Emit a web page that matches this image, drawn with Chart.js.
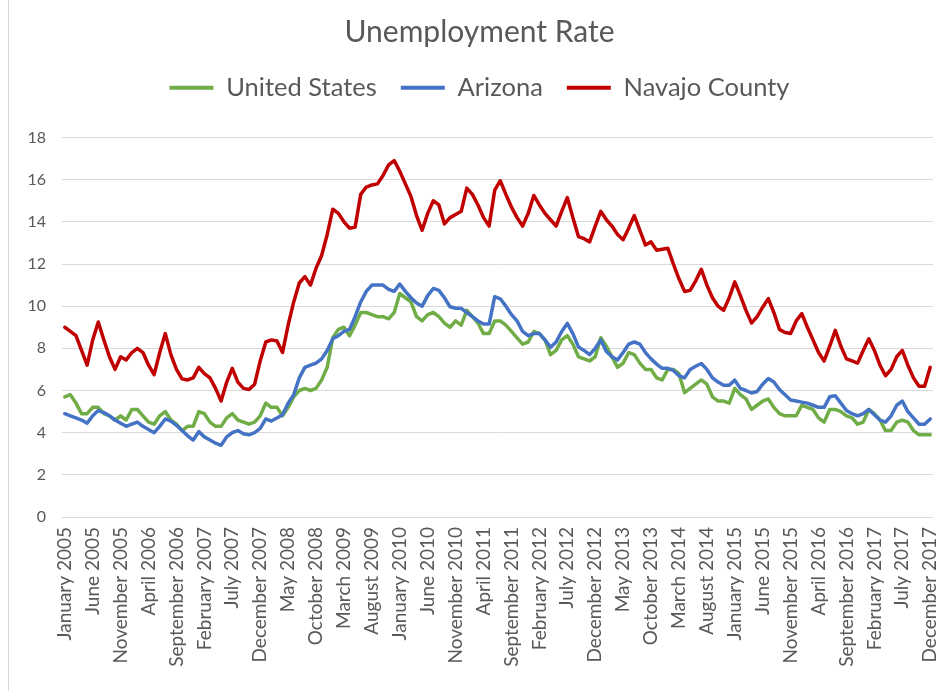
<!DOCTYPE html>
<html>
<head>
<meta charset="utf-8">
<script src="https://cdn.jsdelivr.net/npm/chart.js@4/dist/chart.umd.min.js"></script>
<style>
  html, body { margin: 0; padding: 0; background: #ffffff; }
  #wrap { width: 946px; height: 691px; position: relative; }
</style>
</head>
<body>
<div id="wrap"><canvas id="c" width="946" height="691"></canvas></div>
<script>
// ---- categories ----
const monthNames = ['January','February','March','April','May','June','July','August','September','October','November','December'];
const years = [2005,2006,2007,2008,2009,2010,2011,2012,2013,2014,2015,2016,2017];
const categories = [];
years.forEach(y => monthNames.forEach(m => categories.push(m + ' ' + y)));
const labelEvery = 5;

// ---- series (monthly, Jan 2005 - Dec 2017) ----
const usRate = [
  5.7,5.8,5.4,4.9,4.9,5.2,5.2,4.9,4.8,4.6,4.8,4.6,
  5.1,5.1,4.8,4.5,4.4,4.8,5.0,4.6,4.4,4.1,4.3,4.3,
  5.0,4.9,4.5,4.3,4.3,4.7,4.9,4.6,4.5,4.4,4.5,4.8,
  5.4,5.2,5.2,4.8,5.2,5.7,6.0,6.1,6.0,6.1,6.5,7.1,
  8.5,8.9,9.0,8.6,9.1,9.7,9.7,9.6,9.5,9.5,9.4,9.7,
  10.6,10.4,10.2,9.5,9.3,9.6,9.7,9.5,9.2,9.0,9.3,9.1,
  9.8,9.5,9.2,8.7,8.7,9.3,9.3,9.1,8.8,8.5,8.2,8.3,
  8.8,8.7,8.4,7.7,7.9,8.4,8.6,8.2,7.6,7.5,7.4,7.6,
  8.5,8.1,7.6,7.1,7.3,7.8,7.7,7.3,7.0,7.0,6.6,6.5,
  7.0,7.0,6.8,5.9,6.1,6.3,6.5,6.3,5.7,5.5,5.5,5.4,
  6.1,5.8,5.6,5.1,5.3,5.5,5.6,5.2,4.9,4.8,4.8,4.8,
  5.3,5.2,5.1,4.7,4.5,5.1,5.1,5.0,4.8,4.7,4.4,4.5,
  5.1,4.9,4.6,4.1,4.1,4.5,4.6,4.5,4.1,3.9,3.9,3.9
];
const azRate = [
  4.9,4.8,4.7,4.6,4.45,4.8,5.05,4.95,4.8,4.6,4.45,4.3,
  4.4,4.5,4.3,4.15,4.0,4.3,4.65,4.55,4.35,4.1,3.85,3.65,
  4.05,3.8,3.65,3.5,3.4,3.8,4.0,4.1,3.95,3.9,4.0,4.2,
  4.65,4.55,4.7,4.85,5.4,5.8,6.6,7.1,7.2,7.3,7.5,7.9,
  8.45,8.6,8.8,8.9,9.5,10.2,10.7,11.0,11.0,11.0,10.8,10.7,
  11.05,10.7,10.4,10.15,10.0,10.5,10.84,10.75,10.4,9.97,9.9,9.9,
  9.7,9.5,9.3,9.15,9.15,10.45,10.35,10.0,9.6,9.3,8.8,8.6,
  8.7,8.7,8.4,8.05,8.3,8.8,9.18,8.7,8.07,7.9,7.7,8.0,
  8.4,7.85,7.6,7.45,7.8,8.2,8.3,8.2,7.8,7.5,7.25,7.05,
  7.05,6.95,6.7,6.6,7.0,7.15,7.28,7.0,6.6,6.4,6.25,6.25,
  6.49,6.1,6.0,5.88,5.95,6.3,6.57,6.4,6.05,5.8,5.55,5.5,
  5.45,5.4,5.3,5.2,5.2,5.7,5.75,5.4,5.05,4.9,4.8,4.9,
  5.1,4.85,4.6,4.5,4.8,5.3,5.5,5.0,4.7,4.4,4.4,4.65
];
const navajoRate = [
  9.0,8.8,8.6,7.9,7.2,8.4,9.25,8.4,7.6,7.0,7.6,7.45,
  7.8,8.0,7.8,7.2,6.75,7.8,8.7,7.7,7.0,6.55,6.5,6.6,
  7.1,6.8,6.6,6.1,5.5,6.4,7.05,6.4,6.1,6.05,6.3,7.4,
  8.3,8.4,8.35,7.8,9.1,10.2,11.1,11.4,11.0,11.8,12.4,13.4,
  14.6,14.4,14.0,13.7,13.75,15.3,15.65,15.75,15.8,16.2,16.7,16.9,
  16.4,15.8,15.2,14.3,13.6,14.4,15.0,14.8,13.9,14.2,14.35,14.5,
  15.6,15.3,14.8,14.2,13.8,15.5,15.95,15.3,14.7,14.2,13.8,14.4,
  15.25,14.8,14.4,14.1,13.8,14.5,15.15,14.2,13.3,13.2,13.05,13.8,
  14.5,14.1,13.8,13.4,13.15,13.7,14.3,13.6,12.9,13.05,12.65,12.7,
  12.75,12.0,11.3,10.7,10.75,11.2,11.75,11.0,10.4,10.0,9.8,10.4,
  11.15,10.5,9.8,9.2,9.5,9.95,10.36,9.7,8.9,8.75,8.7,9.3,
  9.65,9.0,8.4,7.8,7.4,8.1,8.85,8.1,7.5,7.4,7.3,7.9,
  8.45,7.9,7.2,6.7,7.0,7.6,7.9,7.2,6.6,6.2,6.2,7.1
];
const yTicks = { min: 0, max: 18, step: 2 };

// ---- styling ----
const FONT = 'Lato, "Open Sans", sans-serif';
const TEXT = '#595959';
const GRID = '#d9d9d9';

const leftBorder = {
  id: 'leftBorder',
  beforeDraw(chart) {
    const ctx = chart.ctx;
    ctx.save();
    ctx.fillStyle = '#ffffff';
    ctx.fillRect(0, 0, chart.width, chart.height);
    ctx.strokeStyle = GRID;
    ctx.lineWidth = 1;
    ctx.beginPath();
    ctx.moveTo(8.5, 0);
    ctx.lineTo(8.5, chart.height);
    ctx.stroke();
    ctx.restore();
  }
};
const legendSpace = {
  id: 'legendSpace',
  beforeInit(chart) {
    const origFit = chart.legend.fit;
    chart.legend.fit = function () {
      origFit.bind(chart.legend)();
      this.height += 27;
    };
  }
};

new Chart(document.getElementById('c'), {
  type: 'line',
  data: {
    labels: categories,
    datasets: [
      { label: 'United States', data: usRate, borderColor: '#70ad47', backgroundColor: '#70ad47', order: 2 },
      { label: 'Arizona', data: azRate, borderColor: '#4472c4', backgroundColor: '#4472c4', order: 1 },
      { label: 'Navajo County', data: navajoRate, borderColor: '#c00000', backgroundColor: '#c00000', order: 0 }
    ]
  },
  options: {
    responsive: false,
    devicePixelRatio: 1,
    animation: false,
    elements: {
      line: { borderWidth: 3.5, tension: 0, borderJoinStyle: 'round', borderCapStyle: 'round' },
      point: { radius: 0, hoverRadius: 0 }
    },
    layout: { padding: { left: 26, right: 13, top: 0, bottom: 0 } },
    plugins: {
      title: {
        display: true,
        text: 'Unemployment Rate',
        color: TEXT,
        font: { family: FONT, size: 30, weight: 'normal', lineHeight: 1 },
        padding: { top: 17, bottom: 4 }
      },
      legend: {
        display: true,
        position: 'top',
        labels: {
          color: TEXT,
          font: { family: FONT, size: 25.5 },
          boxWidth: 44,
          boxHeight: 4,
          padding: 24,
          sort: (a, b) => a.datasetIndex - b.datasetIndex,
          generateLabels(chart) {
            const items = Chart.defaults.plugins.legend.labels.generateLabels(chart);
            items.forEach(it => { it.lineWidth = 0; it.fillStyle = it.strokeStyle; });
            return items;
          }
        }
      },
      tooltip: { enabled: false }
    },
    scales: {
      x: {
        offset: true,
        grid: { display: false, drawTicks: false },
        border: { display: false },
        afterFit(scale) { scale.height = 174; scale.paddingLeft = 0; scale.paddingRight = 0; },
        ticks: {
          autoSkip: false,
          minRotation: 90,
          maxRotation: 90,
          padding: 10,
          color: TEXT,
          font: { family: FONT, size: 19 },
          callback(value, index) { return index % labelEvery === 0 ? categories[index] : ''; }
        }
      },
      y: {
        min: yTicks.min,
        max: yTicks.max,
        afterFit(scale) { scale.width = 36; },
        grid: { color: GRID, lineWidth: 1, drawTicks: false },
        border: { display: false },
        ticks: {
          stepSize: yTicks.step,
          padding: 16,
          color: TEXT,
          font: { family: FONT, size: 16 }
        }
      }
    }
  },
  plugins: [leftBorder, legendSpace]
});
</script>
</body>
</html>
